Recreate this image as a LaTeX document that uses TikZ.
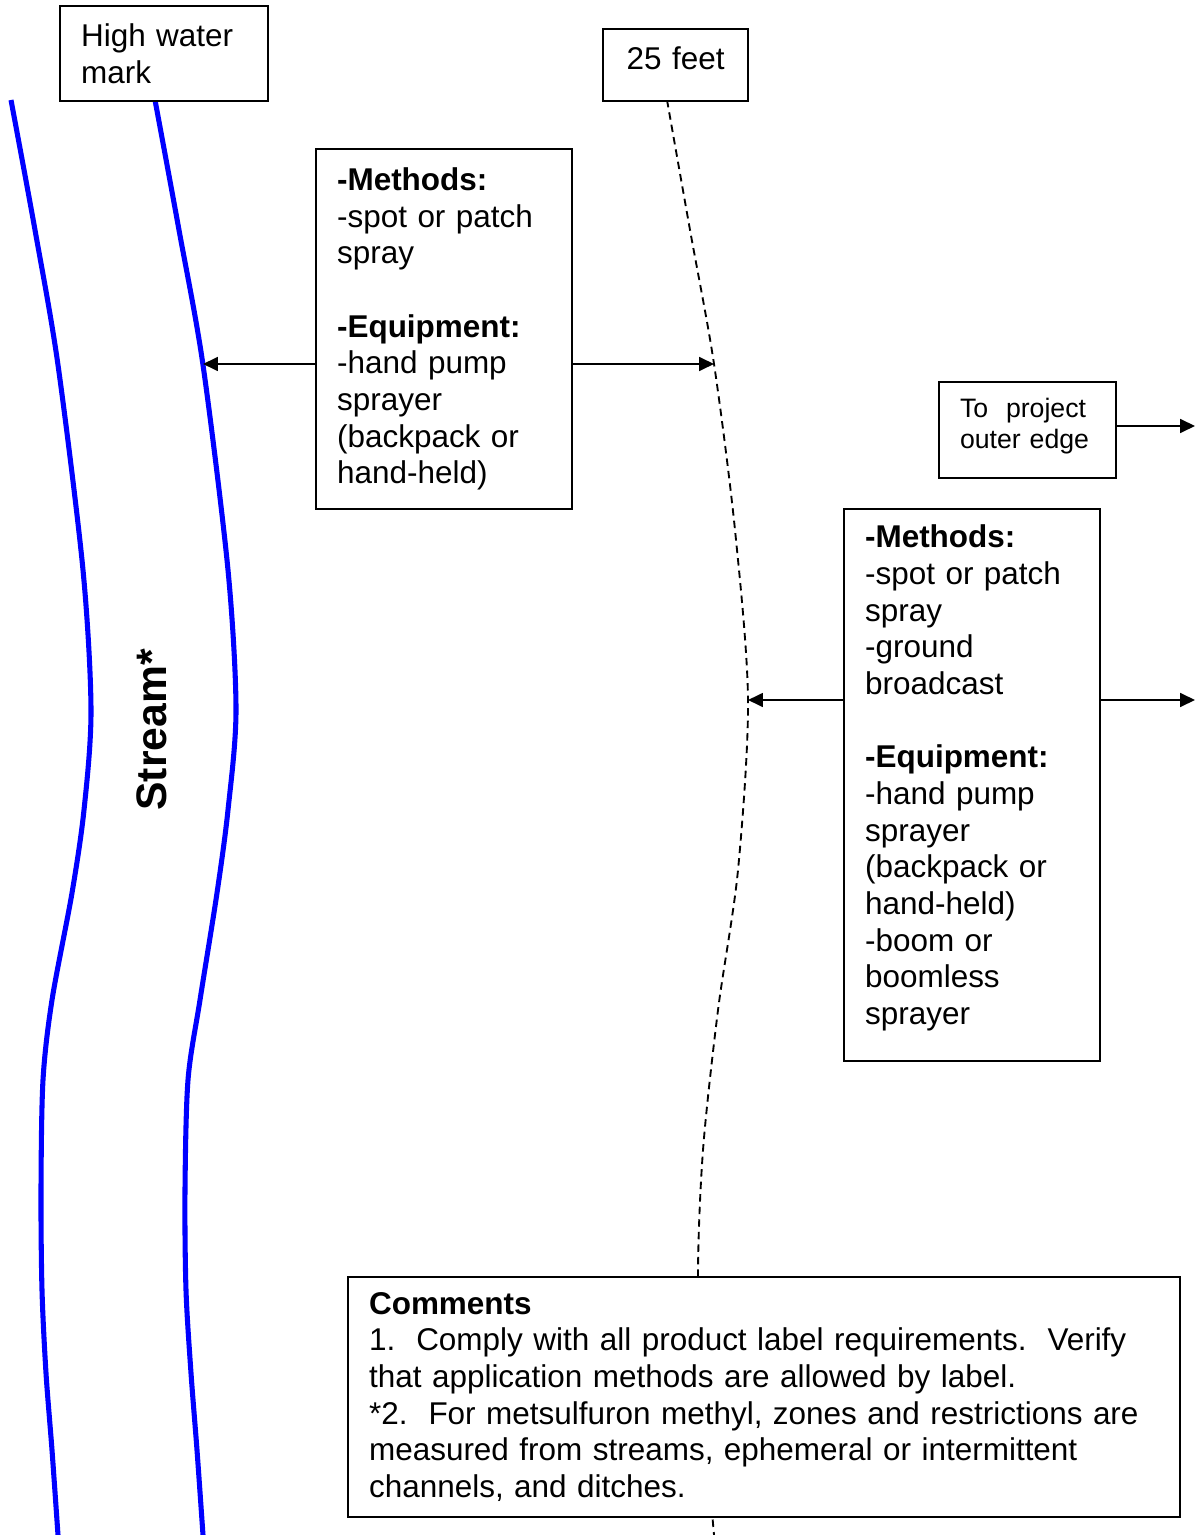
\documentclass[tikz,border=0pt]{standalone}
\usepackage{fontspec}
\setmainfont{Liberation Sans}
\usetikzlibrary{arrows.meta, positioning}

\begin{document}
\begin{tikzpicture}[
  x=0.375pt, y=-0.375pt,
  box/.style={rectangle, draw, line width=0.75pt, fill=white, align=left, anchor=north west,
    inner xsep=7.9pt, inner ysep=0pt, font=\fontsize{11.8}{13.75}\selectfont},
  bank/.style={draw=blue, line width=1.9pt},
  zone/.style={line width=0.7pt, dash pattern=on 2.8pt off 1.9pt},
  arr/.style={-{Triangle[length=5.6pt, width=5.2pt]}, line width=0.75pt}
]
  \useasboundingbox (0,0) rectangle (1198,1535);
  \frenchspacing

  % stream banks and the 25 foot line
  \draw[bank] plot[smooth] coordinates {(11,100) (35,230) (58,365) (83,570) (91,710) (84,810)
    (72,893) (52,1000) (43,1080) (41,1190) (42,1290) (46,1373) (52,1450) (58,1535)};
  \draw[bank] plot[smooth] coordinates {(155,100) (179,230) (203,365) (228,570) (236,710) (228,810)
    (217,893) (200,1000) (188,1080) (185,1190) (186,1290) (191,1373) (197,1450) (203,1535)};
  \draw[zone] plot[smooth] coordinates {(667,100) (690,230) (714,364) (735,530) (748,700)
    (738,870) (718,1010) (703,1150) (698,1276) (703,1400) (714,1535)};

  \node[font=\fontsize{16}{19}\selectfont\bfseries, rotate=90] (stream) at (152,730) {Stream*};

  \node[box, text width=62.2pt, minimum height=35.6pt] (hwm) at (59,5) {High water\\mark};
  \node[box, align=center, text width=38.6pt, minimum height=27pt, text depth=5.5pt] (feet)
    at (602,28) {25 feet};

  \node[box, text width=80.2pt, minimum height=135pt] (meth1) at (315,148)
    {\textbf{-Methods:}\\-spot or patch\\spray\\[13.75pt]
     \textbf{-Equipment:}\\-hand pump\\sprayer\\(backpack or\\hand-held)};

  \node[box, text width=50.6pt, minimum height=36pt, font=\fontsize{10}{11.5}\selectfont] (outer)
    at (938,381) {To\ \ project\\outer edge\rule[-5pt]{0pt}{1pt}};

  \node[box, text width=80.2pt, minimum height=207pt] (meth2) at (843,508)
    {\textbf{-Methods:}\\-spot or patch\\spray\\-ground\\broadcast\\[13.75pt]
     \textbf{-Equipment:}\\-hand pump\\sprayer\\(backpack or\\hand-held)\\-boom or\\boomless\\
     sprayer\rule[-7.7pt]{0pt}{1pt}};

  \node[box, text width=296.2pt, minimum height=90pt] (notes) at (347,1276)
    {\textbf{Comments}\\
     1.\ \ Comply with all product label requirements.\ \ Verify\\
     that application methods are allowed by label.\\
     {*}2.\ \ For metsulfuron methyl, zones and restrictions are\\
     measured from streams, ephemeral or intermittent\\
     channels, and ditches.};

  % arrow ends
  \coordinate (bankA) at (203,364);
  \coordinate (zoneA) at (714,364);
  \coordinate (zoneB) at (748,700);
  \coordinate (edgeA) at (1195,426);
  \coordinate (edgeB) at (1195,700);

  \draw[arr] (meth1.west |- bankA) -- (bankA);
  \draw[arr] (meth1.east |- zoneA) -- (zoneA);
  \draw[arr] (outer.east |- edgeA) -- (edgeA);
  \draw[arr] (meth2.west |- zoneB) -- (zoneB);
  \draw[arr] (meth2.east |- edgeB) -- (edgeB);
\end{tikzpicture}
\end{document}
